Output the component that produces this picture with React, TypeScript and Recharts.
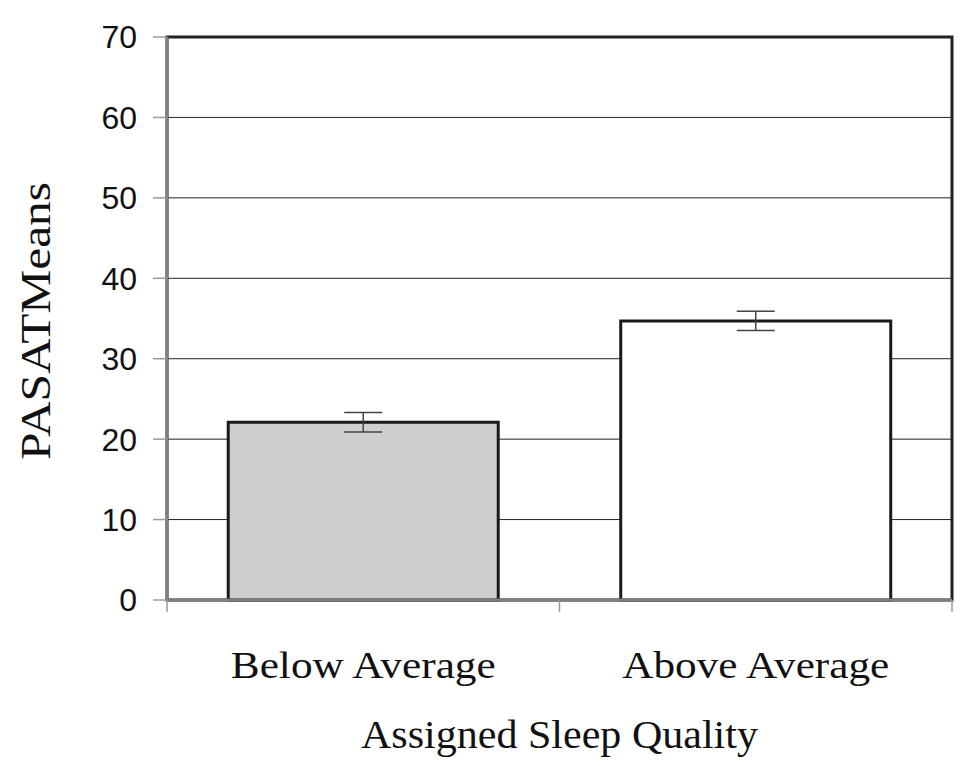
import React from "react"
import { Bar, BarChart, CartesianGrid, Cell, ErrorBar, ReferenceArea, XAxis, YAxis } from "recharts"

const categories = ["Below Average", "Above Average"]
const means = [22.1, 34.7]
const errors = [1.2, 1.2]
const yTicks = [0, 10, 20, 30, 40, 50, 60, 70]
const barFills = ["#cfcfd1", "#ffffff"]

const data = categories.map((name, i) => ({ name, mean: means[i], err: errors[i] }))

const serif = "'Liberation Serif', 'Times New Roman', serif"
const sans = "'Liberation Sans', Arial, sans-serif"
const labelWidths: Record<string, number> = { "Below Average": 265, "Above Average": 267 }

const CategoryTick = (props: any) => {
  const { x, y, payload, index, visibleTicksCount } = props
  const half = payload.offset ?? 196
  const last = index === visibleTicksCount - 1
  return (
    <g>
      <line x1={x - half} x2={x - half} y1={y - 12} y2={y} stroke="#9a9a9a" strokeWidth={1.5} />
      {last && <line x1={x + half} x2={x + half} y1={y - 12} y2={y} stroke="#9a9a9a" strokeWidth={1.5} />}
      <text
        x={x}
        y={y + 66}
        textAnchor="middle"
        fontFamily={serif}
        fontSize={37}
        fill="#111"
        textLength={labelWidths[payload.value]}
        lengthAdjust="spacingAndGlyphs"
      >
        {payload.value}
      </text>
    </g>
  )
}

export default function App() {
  return (
    <div style={{ position: "absolute", left: 0, top: 0, background: "#fff" }}>
      <BarChart width={970} height={768} data={data} margin={{ top: 37, right: 18, left: 0, bottom: 0 }} barCategoryGap="15.6%">
        <CartesianGrid vertical={false} stroke="#222" strokeWidth={1} />
        <ReferenceArea y1={0} y2={70} fill="none" stroke="#222" strokeWidth={3} ifOverflow="visible" />
        <XAxis
          dataKey="name"
          height={168}
          tickSize={12}
          tickMargin={0}
          tickLine={false}
          axisLine={{ stroke: "#7f7f7f", strokeWidth: 3 }}
          tick={<CategoryTick />}
          interval={0}
          label={{
            content: (p: any) => {
              const vb = p.viewBox
              return (
                <text
                  x={vb.x + vb.width / 2}
                  y={748}
                  textAnchor="middle"
                  fontFamily={serif}
                  fontSize={40}
                  fill="#111"
                  textLength={397}
                  lengthAdjust="spacingAndGlyphs"
                >
                  Assigned Sleep Quality
                </text>
              )
            },
          }}
        />
        <YAxis
          width={167}
          domain={[0, 70]}
          ticks={yTicks}
          interval={0}
          tickSize={14}
          tickMargin={16}
          tickLine={{ stroke: "#9a9a9a", strokeWidth: 1.5 }}
          axisLine={{ stroke: "#7f7f7f", strokeWidth: 3 }}
          tick={{ fontFamily: sans, fontSize: 32, fill: "#111" }}
          label={{
            content: () => (
              <text
                x={50}
                y={321}
                textAnchor="middle"
                transform="rotate(-90, 50, 321)"
                fontFamily={serif}
                fontSize={42}
                fill="#111"
                textLength={278}
                lengthAdjust="spacingAndGlyphs"
              >
                PASATMeans
              </text>
            ),
          }}
        />
        <Bar dataKey="mean" stroke="#1a1a1a" strokeWidth={3} isAnimationActive={false}>
          {data.map((d, i) => (
            <Cell key={d.name} fill={barFills[i]} />
          ))}
          <ErrorBar dataKey="err" width={19} stroke="#444" strokeWidth={1.5} />
        </Bar>
      </BarChart>
    </div>
  )
}
